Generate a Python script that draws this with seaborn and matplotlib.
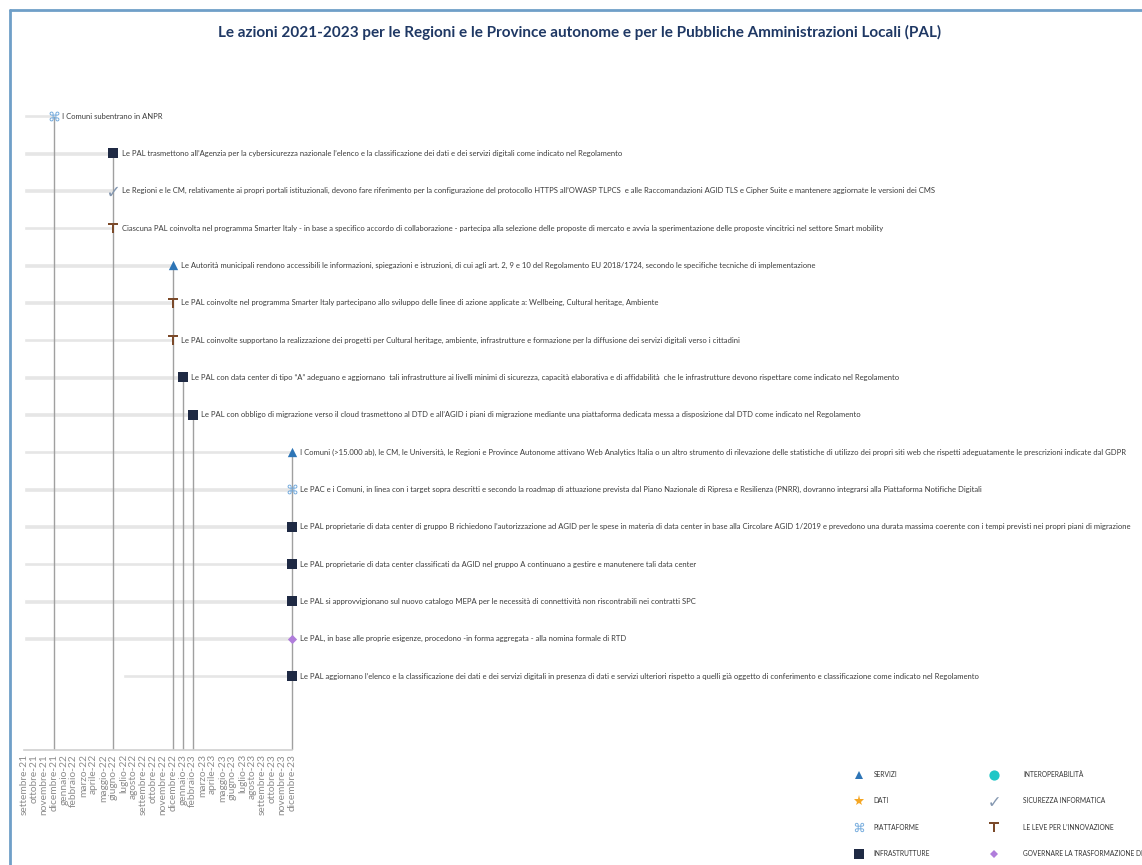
import pandas as pd
import seaborn as sns
import matplotlib.pyplot as plt
from matplotlib.lines import Line2D

# month axis
months = ['settembre-21', 'ottobre-21', 'novembre-21', 'dicembre-21',
          'gennaio-22', 'febbraio-22', 'marzo-22', 'aprile-22', 'maggio-22', 'giugno-22',
          'luglio-22', 'agosto-22', 'settembre-22', 'ottobre-22', 'novembre-22', 'dicembre-22',
          'gennaio-23', 'febbraio-23', 'marzo-23', 'aprile-23', 'maggio-23', 'giugno-23',
          'luglio-23', 'agosto-23', 'settembre-23', 'ottobre-23', 'novembre-23', 'dicembre-23']

actions = [
    'I Comuni subentrano in ANPR',
    'Le PAL trasmettono all’Agenzia per la cybersicurezza nazionale l’elenco e la classificazione dei dati e dei servizi digitali come indicato nel Regolamento',
    'Le Regioni e le CM, relativamente ai propri portali istituzionali, devono fare riferimento per la configurazione del protocollo HTTPS all’OWASP TLPCS  e alle Raccomandazioni AGID TLS e Cipher Suite e mantenere aggiornate le versioni dei CMS',
    'Ciascuna PAL coinvolta nel programma Smarter Italy - in base a specifico accordo di collaborazione - partecipa alla selezione delle proposte di mercato e avvia la sperimentazione delle proposte vincitrici nel settore Smart mobility',
    'Le Autorità municipali rendono accessibili le informazioni, spiegazioni e istruzioni, di cui agli art. 2, 9 e 10 del Regolamento EU 2018/1724, secondo le specifiche tecniche di implementazione',
    'Le PAL coinvolte nel programma Smarter Italy partecipano allo sviluppo delle linee di azione applicate a: Wellbeing, Cultural heritage, Ambiente',
    'Le PAL coinvolte supportano la realizzazione dei progetti per Cultural heritage, ambiente, infrastrutture e formazione per la diffusione dei servizi digitali verso i cittadini',
    'Le PAL con data center di tipo “A” adeguano e aggiornano  tali infrastrutture ai livelli minimi di sicurezza, capacità elaborativa e di affidabilità  che le infrastrutture devono rispettare come indicato nel Regolamento',
    'Le PAL con obbligo di migrazione verso il cloud trasmettono al DTD e all’AGID i piani di migrazione mediante una piattaforma dedicata messa a disposizione dal DTD come indicato nel Regolamento',
    'I Comuni (>15.000 ab), le CM, le Università, le Regioni e Province Autonome attivano Web Analytics Italia o un altro strumento di rilevazione delle statistiche di utilizzo dei propri siti web che rispetti adeguatamente le prescrizioni indicate dal GDPR',
    'Le PAC e i Comuni, in linea con i target sopra descritti e secondo la roadmap di attuazione prevista dal Piano Nazionale di Ripresa e Resilienza (PNRR), dovranno integrarsi alla Piattaforma Notifiche Digitali',
    'Le PAL proprietarie di data center di gruppo B richiedono l’autorizzazione ad AGID per le spese in materia di data center in base alla Circolare AGID 1/2019 e prevedono una durata massima coerente con i tempi previsti nei propri piani di migrazione',
    'Le PAL proprietarie di data center classificati da AGID nel gruppo A continuano a gestire e manutenere tali data center',
    'Le PAL si approvvigionano sul nuovo catalogo MEPA per le necessità di connettività non riscontrabili nei contratti SPC',
    'Le PAL, in base alle proprie esigenze, procedono -in forma aggregata - alla nomina formale di RTD',
    'Le PAL aggiornano l’elenco e la classificazione dei dati e dei servizi digitali in presenza di dati e servizi ulteriori rispetto a quelli già oggetto di conferimento e classificazione come indicato nel Regolamento',
]

categories = ['PIATTAFORME', 'INFRASTRUTTURE', 'SICUREZZA INFORMATICA', 'LE LEVE PER L’INNOVAZIONE',
              'SERVIZI', 'LE LEVE PER L’INNOVAZIONE', 'LE LEVE PER L’INNOVAZIONE', 'INFRASTRUTTURE',
              'INFRASTRUTTURE', 'SERVIZI', 'PIATTAFORME', 'INFRASTRUTTURE',
              'INFRASTRUTTURE', 'INFRASTRUTTURE', 'GOVERNARE LA TRASFORMAZIONE DIGITALE', 'INFRASTRUTTURE']

start_month = ['settembre-21'] * 15 + ['luglio-22']
end_month = ['dicembre-21', 'giugno-22', 'giugno-22', 'giugno-22',
             'dicembre-22', 'dicembre-22', 'dicembre-22', 'gennaio-23',
             'febbraio-23', 'dicembre-23', 'dicembre-23', 'dicembre-23',
             'dicembre-23', 'dicembre-23', 'dicembre-23', 'dicembre-23']

legend_left = ['SERVIZI', 'DATI', 'PIATTAFORME', 'INFRASTRUTTURE']
legend_right = ['INTEROPERABILITÀ', 'SICUREZZA INFORMATICA', 'LE LEVE PER L’INNOVAZIONE',
                'GOVERNARE LA TRASFORMAZIONE DIGITALE']

palette = {'SERVIZI': '#2e75b6', 'DATI': '#f5a623', 'PIATTAFORME': '#6fa8dc',
           'INFRASTRUTTURE': '#1f2a44', 'INTEROPERABILITÀ': '#1fc7c7',
           'SICUREZZA INFORMATICA': '#8497b0', 'LE LEVE PER L’INNOVAZIONE': '#7b4a2a',
           'GOVERNARE LA TRASFORMAZIONE DIGITALE': '#b07ddb'}
markers = {'SERVIZI': '^', 'DATI': '*', 'PIATTAFORME': '$\u2318$',
           'INFRASTRUTTURE': 's', 'INTEROPERABILITÀ': 'o',
           'SICUREZZA INFORMATICA': '$\u2713$', 'LE LEVE PER L’INNOVAZIONE': '$\\mathbf{T}$',
           'GOVERNARE LA TRASFORMAZIONE DIGITALE': 'D'}
sizes = {'SERVIZI': 45, 'DATI': 70, 'PIATTAFORME': 50, 'INFRASTRUTTURE': 55,
         'INTEROPERABILITÀ': 60, 'SICUREZZA INFORMATICA': 45,
         'LE LEVE PER L’INNOVAZIONE': 60, 'GOVERNARE LA TRASFORMAZIONE DIGITALE': 22}

df = pd.DataFrame({'azione': actions, 'cat': categories,
                   'start': [months.index(m) for m in start_month],
                   'end': [months.index(m) for m in end_month]})
df['row'] = range(len(df))

sns.set_theme(style='white')
plt.rcParams['font.family'] = ['Lato', 'DejaVu Sans']

fig = plt.figure(figsize=(11.42, 8.65), dpi=100)
ax = fig.add_axes([0, 1 - 750 / 865, 1, (750 - 90) / 865])

# grey bars from start to milestone
ax.barh(df['row'], df['end'] - df['start'], left=df['start'], height=0.12,
        color='#e6e6e6', zorder=1)

# vertical drop lines to the time axis
n_rows = len(df)
y_bottom = n_rows - 1 + 1.98
drops = df.groupby('end')['row'].min()
ax.vlines(drops.index, drops.values, y_bottom, color='#a0a0a0', lw=1.0, zorder=2)

for cat, sub in df.groupby('cat'):
    sns.scatterplot(data=sub, x='end', y='row', marker=markers[cat], color=palette[cat],
                    s=sizes[cat], linewidth=0, zorder=4, legend=False, ax=ax)

for _, r in df.iterrows():
    ax.annotate(r['azione'], (r['end'], r['row']), xytext=(6, 0), textcoords='offset points',
                va='center', ha='left', fontsize=5.5, color='#3b3b3b')

px = 9.93
ax.set_xlim(-24 / px, (1142 - 24) / px)
ax.set_ylim(y_bottom, -(116 - 90) / 37.33)
ax.set_xticks(range(len(months)))
ax.set_xticklabels(months, rotation=90, fontsize=7.3, color='#8c8c8c')
ax.tick_params(axis='x', length=0, pad=3)
ax.set_yticks([])
ax.set_xlabel('')
ax.set_ylabel('')
for s in ['top', 'left', 'right']:
    ax.spines[s].set_visible(False)
ax.spines['bottom'].set_bounds(0, len(months) - 1)
ax.spines['bottom'].set_color('#d0d0d0')
ax.spines['bottom'].set_linewidth(1.2)
ax.patch.set_alpha(0)

fig.suptitle('Le azioni 2021-2023 per le Regioni e le Province autonome e per le Pubbliche Amministrazioni Locali (PAL)',
             x=580 / 1142, y=1 - 32 / 865, va='center', fontsize=11, fontweight='bold', color='#1f3864')

# frame
fig.add_artist(Line2D([10 / 1142, 1], [1 - 10 / 865] * 2, transform=fig.transFigure,
                      color='#6f9fc8', lw=2))
fig.add_artist(Line2D([10 / 1142] * 2, [0, 1 - 10 / 865], transform=fig.transFigure,
                      color='#6f9fc8', lw=2))


def make_legend(cats, x_px, pad):
    handles = [Line2D([], [], linestyle='', marker=markers[c], color=palette[c],
                      markersize=(sizes[c] ** 0.5) * 0.95, markeredgewidth=0) for c in cats]
    return fig.legend(handles, cats, loc='upper left',
                      bbox_to_anchor=(x_px / 1142, 1 - 771 / 865), frameon=False, fontsize=4.8,
                      labelspacing=2.9, handlelength=1.0, handletextpad=pad,
                      labelcolor='#333333', borderaxespad=0, borderpad=0)


make_legend(legend_left, 856, 1.6)
make_legend(legend_right, 991, 3.8)

fig.savefig('out.png', dpi=100)
